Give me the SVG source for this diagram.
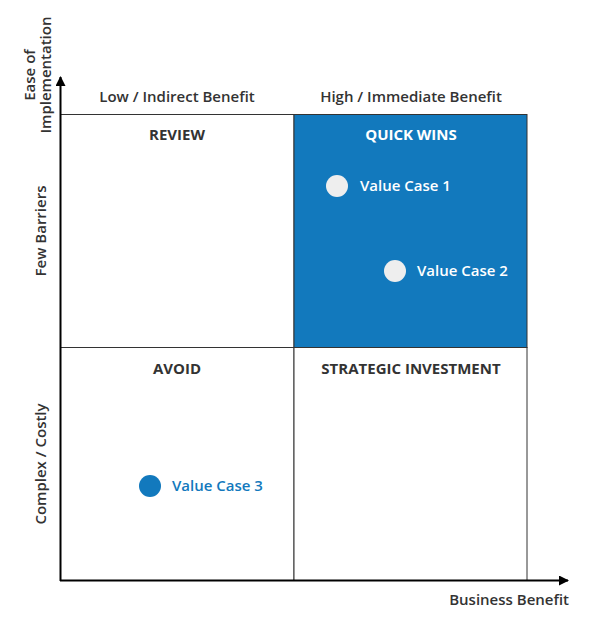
<svg xmlns="http://www.w3.org/2000/svg" width="597" height="617" viewBox="0 0 597 617">
<style>
text{font-family:"Open Sans","Liberation Sans",sans-serif;font-weight:600;fill:#333;font-size:15px}
.q{font-weight:700;font-size:15px;text-anchor:middle}
.w{fill:#fff}
.b{fill:#1279BD}
.cell{fill:#fff;stroke:#333;stroke-width:1}
</style>
<defs><marker id="ah" markerWidth="10" markerHeight="10" refX="9" refY="5" orient="auto" markerUnits="userSpaceOnUse"><path d="M0,0 L10,5 L0,10 Z" fill="#000"/></marker></defs>
<g id="quadrants">
<rect class="cell" x="60.5" y="114.5" width="233.5" height="233"/>
<rect x="294" y="114.5" width="233" height="233" fill="#1279BD" stroke="#333"/>
<rect class="cell" x="60.5" y="347.5" width="233.5" height="233"/>
<rect class="cell" x="294" y="347.5" width="233" height="233"/>
</g>
<g id="connectors">
<line x1="60.5" y1="581" x2="60.5" y2="77" stroke="#000" stroke-width="2" marker-end="url(#ah)"/>
<line x1="60" y1="580.5" x2="568" y2="580.5" stroke="#000" stroke-width="2" marker-end="url(#ah)"/>
</g>
<g id="labels">
<text x="177" y="102" text-anchor="middle">Low / Indirect Benefit</text>
<text x="411" y="102" text-anchor="middle">High / Immediate Benefit</text>
<text x="569" y="605" text-anchor="end">Business Benefit</text>
<text transform="translate(35,75) rotate(-90)" text-anchor="middle">Ease of</text>
<text transform="translate(51,75) rotate(-90)" text-anchor="middle">Implementation</text>
<text transform="translate(46,231) rotate(-90)" text-anchor="middle">Few Barriers</text>
<text transform="translate(46,464) rotate(-90)" text-anchor="middle">Complex / Costly</text>
<text class="q" x="177" y="140">REVIEW</text>
<text class="q w" x="411" y="140">QUICK WINS</text>
<text class="q" x="177" y="374">AVOID</text>
<text class="q" x="411" y="374">STRATEGIC INVESTMENT</text>
</g>
<g id="vc1"><circle cx="337" cy="186" r="11" fill="#eee"/><text class="w" x="360" y="191">Value Case 1</text></g>
<g id="vc2"><circle cx="395" cy="271" r="11" fill="#eee"/><text class="w" x="417" y="276">Value Case 2</text></g>
<g id="vc3"><circle cx="150" cy="486" r="11" fill="#1279BD"/><text class="b" x="172" y="491">Value Case 3</text></g>
</svg>
